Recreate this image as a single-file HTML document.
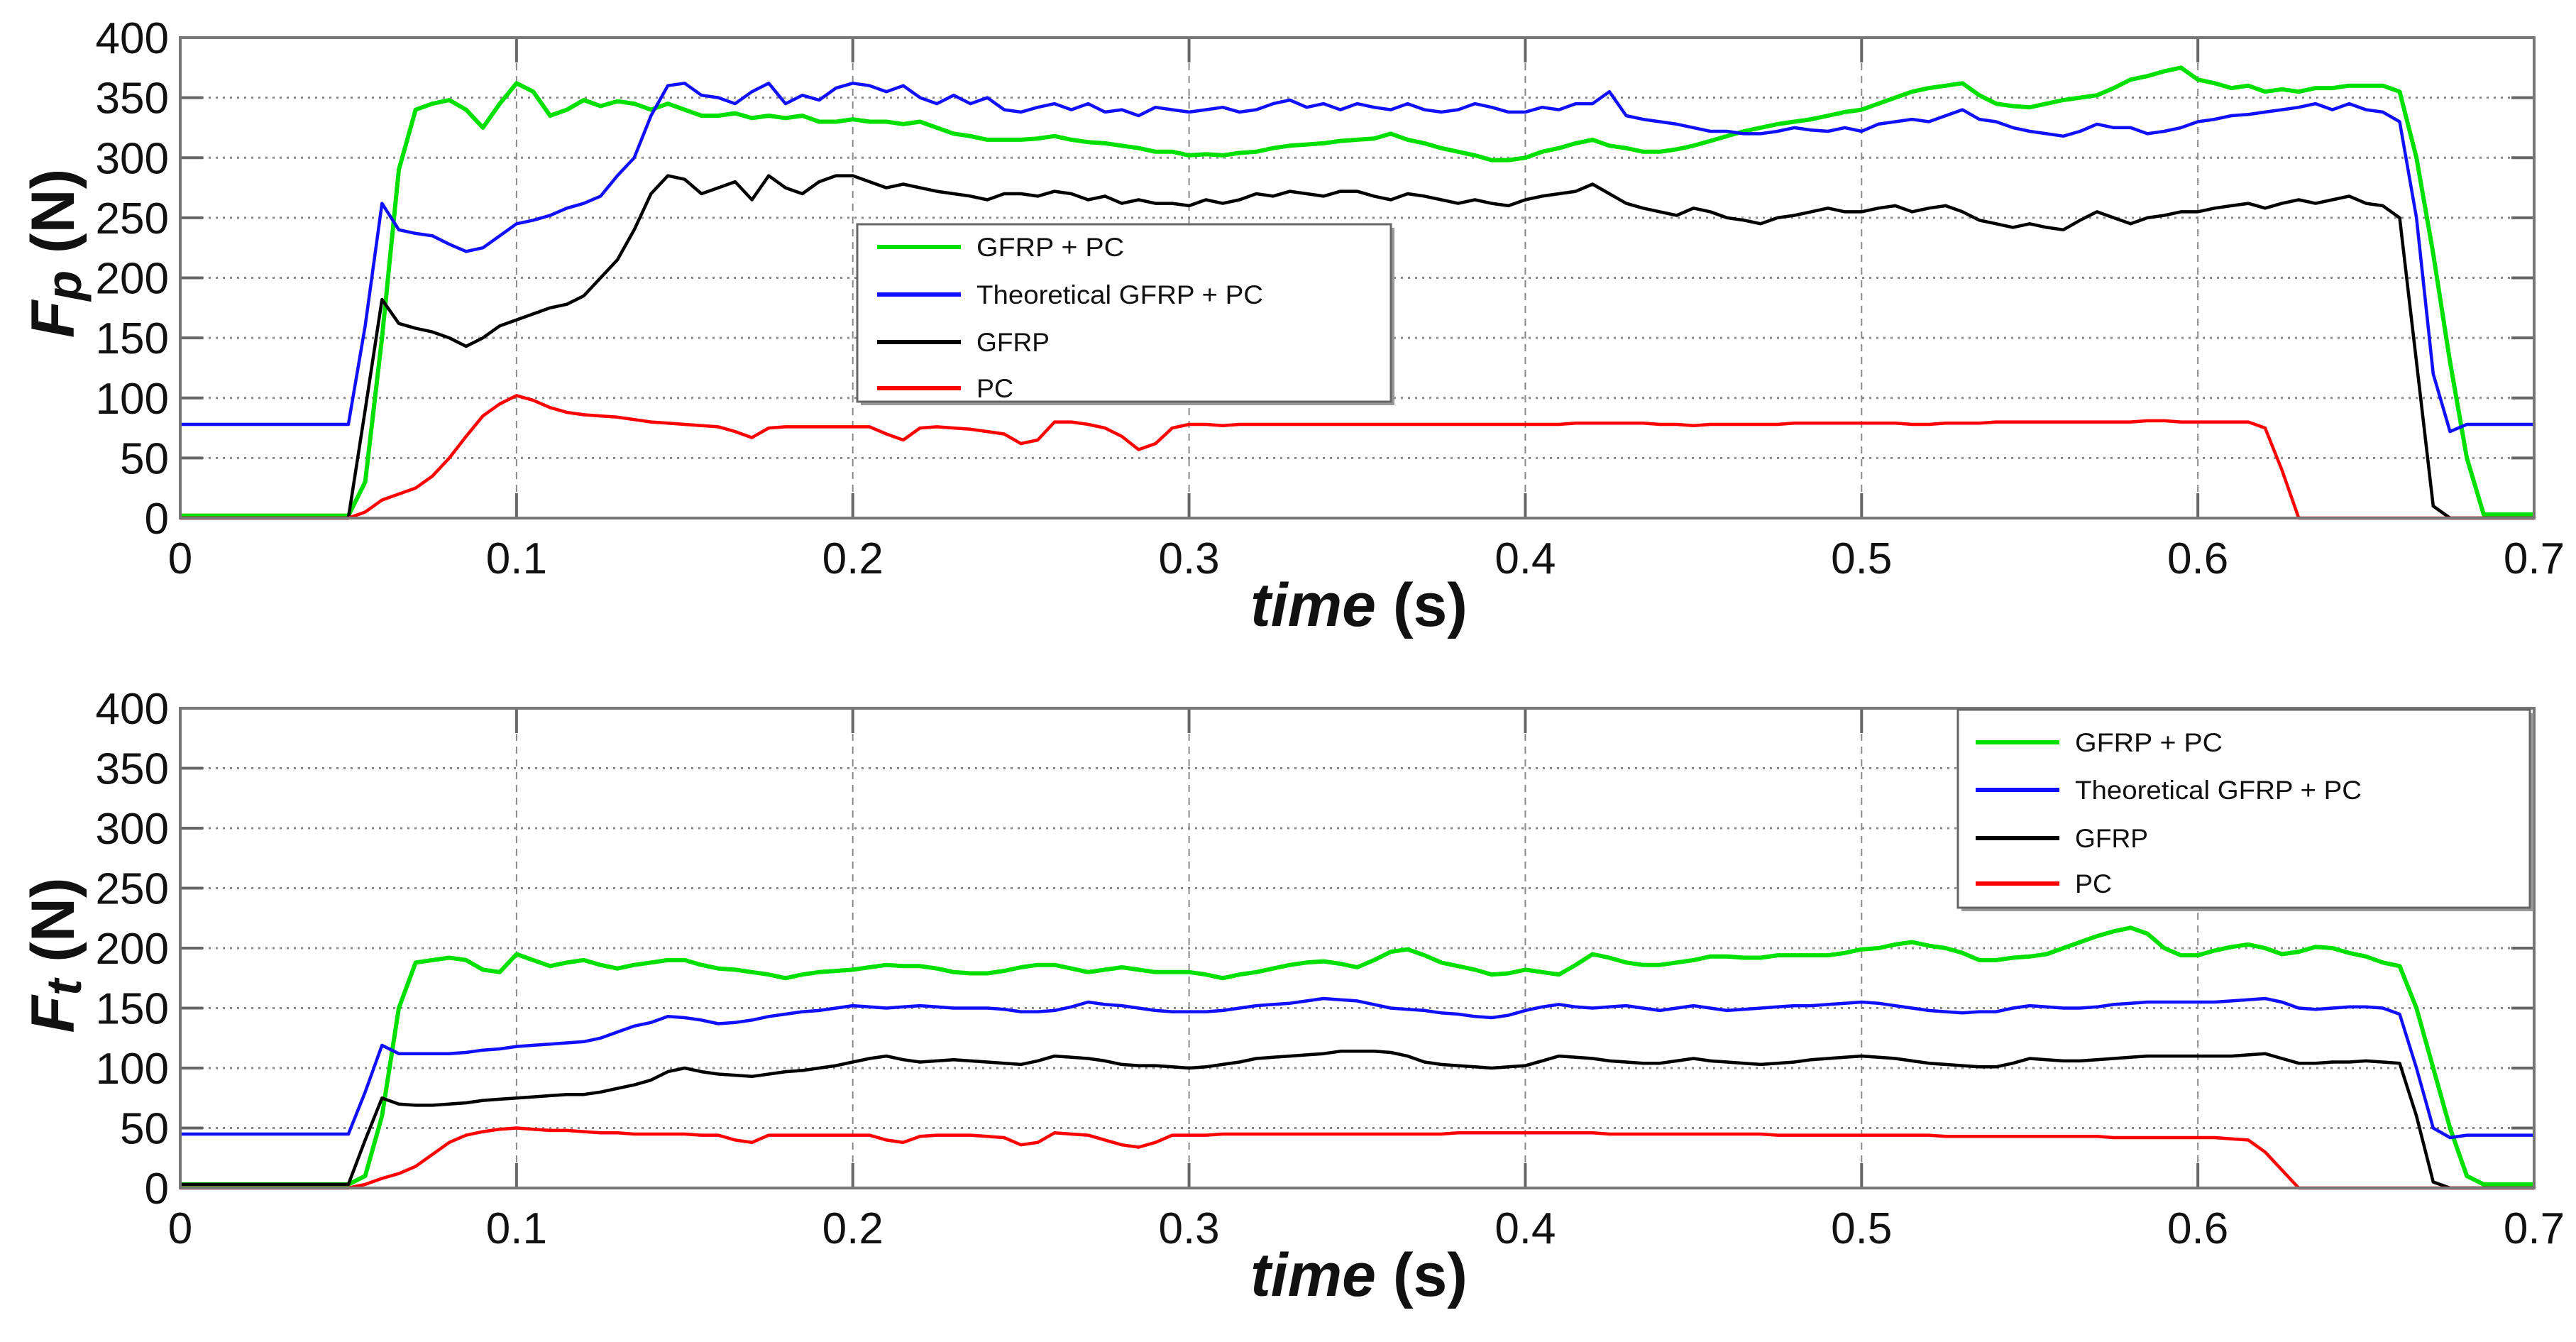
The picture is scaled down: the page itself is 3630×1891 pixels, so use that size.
<!DOCTYPE html>
<html><head><meta charset="utf-8"><style>
html,body{margin:0;padding:0;background:#fff;}
svg{display:block;}
text{font-family:"Liberation Sans",sans-serif;}
</style></head><body>
<svg id="fig" width="3630" height="1891" viewBox="0 0 3630 1891" xmlns="http://www.w3.org/2000/svg">
<rect x="0" y="0" width="3630" height="1891" fill="#fff"/>
</svg>
<script>
// shared time axis (s)
const times = [0,0.005,0.01,0.015,0.02,0.025,0.03,0.035,0.04,0.045,
0.05,0.055,0.06,0.065,0.07,0.075,0.08,0.085,0.09,0.095,
0.1,0.105,0.11,0.115,0.12,0.125,0.13,0.135,0.14,0.145,
0.15,0.155,0.16,0.165,0.17,0.175,0.18,0.185,0.19,0.195,
0.2,0.205,0.21,0.215,0.22,0.225,0.23,0.235,0.24,0.245,
0.25,0.255,0.26,0.265,0.27,0.275,0.28,0.285,0.29,0.295,
0.3,0.305,0.31,0.315,0.32,0.325,0.33,0.335,0.34,0.345,
0.35,0.355,0.36,0.365,0.37,0.375,0.38,0.385,0.39,0.395,
0.4,0.405,0.41,0.415,0.42,0.425,0.43,0.435,0.44,0.445,
0.45,0.455,0.46,0.465,0.47,0.475,0.48,0.485,0.49,0.495,
0.5,0.505,0.51,0.515,0.52,0.525,0.53,0.535,0.54,0.545,
0.55,0.555,0.56,0.565,0.57,0.575,0.58,0.585,0.59,0.595,
0.6,0.605,0.61,0.615,0.62,0.625,0.63,0.635,0.64,0.645,
0.65,0.655,0.66,0.665,0.67,0.675,0.68,0.685,0.69,0.695,0.7];

// Top chart: Fp (N)
const fpGfrpPc = [2,2,2,2,2,2,2,2,2,2,
2,30,150,290,340,345,348,340,325,345,
362,355,335,340,348,343,347,345,340,345,
340,335,335,337,333,335,333,335,330,330,
332,330,330,328,330,325,320,318,315,315,
315,316,318,315,313,312,310,308,305,305,
302,303,302,304,305,308,310,311,312,314,
315,316,320,315,312,308,305,302,298,298,
300,305,308,312,315,310,308,305,305,307,
310,314,318,322,325,328,330,332,335,338,
340,345,350,355,358,360,362,352,345,343,
342,345,348,350,352,358,365,368,372,375,
365,362,358,360,355,357,355,358,358,360,
360,360,355,300,220,130,50,3,3,3,3];
const fpTheory = [78,78,78,78,78,78,78,78,78,78,
78,160,262,240,237,235,228,222,225,235,
245,248,252,258,262,268,285,300,335,360,
362,352,350,345,355,362,345,352,348,358,
362,360,355,360,350,345,352,345,350,340,
338,342,345,340,345,338,340,335,342,340,
338,340,342,338,340,345,348,342,345,340,
345,342,340,345,340,338,340,345,342,338,
338,342,340,345,345,355,335,332,330,328,
325,322,322,320,320,322,325,323,322,325,
322,328,330,332,330,335,340,332,330,325,
322,320,318,322,328,325,325,320,322,325,
330,332,335,336,338,340,342,345,340,345,
340,338,330,250,120,72,78,78,78,78,78];
const fpGfrp = [0,0,0,0,0,0,0,0,0,0,
0,90,182,162,158,155,150,143,150,160,
165,170,175,178,185,200,215,240,270,285,
282,270,275,280,265,285,275,270,280,285,
285,280,275,278,275,272,270,268,265,270,
270,268,272,270,265,268,262,265,262,262,
260,265,262,265,270,268,272,270,268,272,
272,268,265,270,268,265,262,265,262,260,
265,268,270,272,278,270,262,258,255,252,
258,255,250,248,245,250,252,255,258,255,
255,258,260,255,258,260,255,248,245,242,
245,242,240,248,255,250,245,250,252,255,
255,258,260,262,258,262,265,262,265,268,
262,260,250,130,10,0,0,0,0,0,0];
const fpPc = [0,0,0,0,0,0,0,0,0,0,
0,5,15,20,25,35,50,68,85,95,
102,98,92,88,86,85,84,82,80,79,
78,77,76,72,67,75,76,76,76,76,
76,76,70,65,75,76,75,74,72,70,
62,65,80,80,78,75,68,57,62,75,
78,78,77,78,78,78,78,78,78,78,
78,78,78,78,78,78,78,78,78,78,
78,78,78,79,79,79,79,79,78,78,
77,78,78,78,78,78,79,79,79,79,
79,79,79,78,78,79,79,79,80,80,
80,80,80,80,80,80,80,81,81,80,
80,80,80,80,75,40,0,0,0,0,
0,0,0,0,0,0,0,0,0,0,0];

// Bottom chart: Ft (N)
const ftGfrpPc = [3,3,3,3,3,3,3,3,3,3,
3,10,60,150,188,190,192,190,182,180,
195,190,185,188,190,186,183,186,188,190,
190,186,183,182,180,178,175,178,180,181,
182,184,186,185,185,183,180,179,179,181,
184,186,186,183,180,182,184,182,180,180,
180,178,175,178,180,183,186,188,189,187,
184,190,197,199,194,188,185,182,178,179,
182,180,178,186,195,192,188,186,186,188,
190,193,193,192,192,194,194,194,194,196,
199,200,203,205,202,200,196,190,190,192,
193,195,200,205,210,214,217,212,200,194,
194,198,201,203,200,195,197,201,200,196,
193,188,185,150,100,50,10,3,3,3,3];
const ftTheory = [45,45,45,45,45,45,45,45,45,45,
45,80,119,112,112,112,112,113,115,116,
118,119,120,121,122,125,130,135,138,143,
142,140,137,138,140,143,145,147,148,150,
152,151,150,151,152,151,150,150,150,149,
147,147,148,151,155,153,152,150,148,147,
147,147,148,150,152,153,154,156,158,157,
156,153,150,149,148,146,145,143,142,144,
148,151,153,151,150,151,152,150,148,150,
152,150,148,149,150,151,152,152,153,154,
155,154,152,150,148,147,146,147,147,150,
152,151,150,150,151,153,154,155,155,155,
155,155,156,157,158,155,150,149,150,151,
151,150,145,100,50,42,44,44,44,44,44];
const ftGfrp = [3,3,3,3,3,3,3,3,3,3,
3,40,75,70,69,69,70,71,73,74,
75,76,77,78,78,80,83,86,90,97,
100,97,95,94,93,95,97,98,100,102,
105,108,110,107,105,106,107,106,105,104,
103,106,110,109,108,106,103,102,102,101,
100,101,103,105,108,109,110,111,112,114,
114,114,113,110,105,103,102,101,100,101,
102,106,110,109,108,106,105,104,104,106,
108,106,105,104,103,104,105,107,108,109,
110,109,108,106,104,103,102,101,101,104,
108,107,106,106,107,108,109,110,110,110,
110,110,110,111,112,108,104,104,105,105,
106,105,104,60,5,0,0,0,0,0,0];
const ftPc = [0,0,0,0,0,0,0,0,0,0,
0,3,8,12,18,28,38,44,47,49,
50,49,48,48,47,46,46,45,45,45,
45,44,44,40,38,44,44,44,44,44,
44,44,40,38,43,44,44,44,43,42,
36,38,46,45,44,40,36,34,38,44,
44,44,45,45,45,45,45,45,45,45,
45,45,45,45,45,45,46,46,46,46,
46,46,46,46,46,45,45,45,45,45,
45,45,45,45,45,44,44,44,44,44,
44,44,44,44,44,43,43,43,43,43,
43,43,43,43,43,42,42,42,42,42,
42,42,41,40,30,15,0,0,0,0,
0,0,0,0,0,0,0,0,0,0,0];

const yTicks = [0,50,100,150,200,250,300,350,400];
const yTickLabels = ["0","50","100","150","200","250","300","350","400"];
const xTicks = [0,0.1,0.2,0.3,0.4,0.5,0.6,0.7];
const xTickLabels = ["0","0.1","0.2","0.3","0.4","0.5","0.6","0.7"];
const seriesNames = ["GFRP + PC","Theoretical GFRP + PC","GFRP","PC"];

const NS = "http://www.w3.org/2000/svg";
const svg = document.getElementById('fig');
function mk(tag, attrs, parent){
  const e = document.createElementNS(NS, tag);
  for (const k in attrs) e.setAttribute(k, attrs[k]);
  (parent||svg).appendChild(e);
  return e;
}
const colors = ["#00e000","#1010ff","#000000","#ff0000"];
const widths = [6,4.5,4.5,4.5];
const X0 = 254, X1 = 3571;

function drawChart(cfg){
  const g = mk('g', {});
  
  
  const xs = t => X0 + (t/0.7)*(X1-X0);
  const ys = v => cfg.bottom - (v/400)*(cfg.bottom-cfg.top);
  // grid
  yTicks.forEach((v,i)=>{
    if (v>0 && v<400){
      const l = mk('line',{x1:X0,x2:X1,y1:ys(v),y2:ys(v),stroke:'#8a8a8a','stroke-width':3,'stroke-dasharray':'3,7'},g);
      
      
    }
    const tl = mk('line',{x1:X0,x2:X0+32,y1:ys(v),y2:ys(v),stroke:'#666','stroke-width':4},g);
    
    
    const tr = mk('line',{x1:X1-32,x2:X1,y1:ys(v),y2:ys(v),stroke:'#666','stroke-width':4},g);
    
    
    const lab = mk('text',{x:238,y:ys(v)+22,'text-anchor':'end','font-size':62,fill:'#111'},g);
    lab.textContent = yTickLabels[i];
    
    
  });
  xTicks.forEach((t,i)=>{
    if (t>0 && t<0.7){
      const l = mk('line',{x1:xs(t),x2:xs(t),y1:cfg.top,y2:cfg.bottom,stroke:'#8a8a8a','stroke-width':2,'stroke-dasharray':'10,8'},g);
      
      
    }
    const tb = mk('line',{x1:xs(t),x2:xs(t),y1:cfg.bottom-35,y2:cfg.bottom,stroke:'#666','stroke-width':4},g);
    
    
    const tt = mk('line',{x1:xs(t),x2:xs(t),y1:cfg.top,y2:cfg.top+35,stroke:'#666','stroke-width':4},g);
    
    
    const lab = mk('text',{x:xs(t),y:cfg.bottom+78,'text-anchor':'middle','font-size':62,fill:'#111'},g);
    lab.textContent = xTickLabels[i];
    
    
  });
  // series
  cfg.series.forEach((arr,si)=>{
    let d = '';
    arr.forEach((v,i)=>{ d += (i?'L':'M') + xs(times[i]).toFixed(1) + ',' + ys(v).toFixed(1); });
    const p = mk('path',{d:d,fill:'none',stroke:colors[si],'stroke-width':widths[si],'stroke-linejoin':'round'},g);
    
    
  });
  // box
  const box = mk('rect',{x:X0,y:cfg.top,width:X1-X0,height:cfg.bottom-cfg.top,fill:'none',stroke:'#777','stroke-width':4},g);
  
  
  // axis titles
  const xt = mk('text',{x:1915,y:cfg.bottom+152,'text-anchor':'middle','font-size':86,'font-weight':'bold',fill:'#111'},g);
  xt.innerHTML = '<tspan font-style="italic">time</tspan> (s)';
  
  
  const yt = mk('text',{x:0,y:0,'text-anchor':'middle','font-size':86,'font-weight':'bold',fill:'#111',transform:'translate(104,'+cfg.ytitleY+') rotate(-90)'},g);
  yt.innerHTML = '<tspan font-style="italic">F</tspan><tspan font-style="italic" font-size="70" dy="10">'+cfg.sub+'</tspan><tspan dy="-10"> (N)</tspan>';
  
  
  // legend
  const L = cfg.legend;
  const lg = mk('g',{},g);
  
  
  const sh = mk('rect',{x:L.x+5,y:L.y+5,width:L.w,height:L.h,fill:'#999'},lg);
  
  
  const lb = mk('rect',{x:L.x,y:L.y,width:L.w,height:L.h,fill:'#fff',stroke:'#666','stroke-width':3},lg);
  
  
  const tw = [208,404,103,52];
  seriesNames.forEach((nm,i)=>{
    const yy = L.rows[i];
    const ln = mk('line',{x1:L.lx,x2:L.lx+118,y1:yy,y2:yy,stroke:colors[i],'stroke-width':6},lg);
    
    
    const tx = mk('text',{x:L.lx+140,y:yy+13,'font-size':37,fill:'#111',textLength:tw[i],lengthAdjust:'spacingAndGlyphs'},lg);
    tx.textContent = nm;
    
    
  });
}

drawChart({name:'fp-chart',top:53,bottom:730,sub:'p',ytitleY:357,
  series:[fpGfrpPc,fpTheory,fpGfrp,fpPc],
  legend:{x:1208,y:316,w:752,h:250,lx:1236,rows:[348,415,482,547]}});
drawChart({name:'ft-chart',top:998,bottom:1674,sub:'t',ytitleY:1346,
  series:[ftGfrpPc,ftTheory,ftGfrp,ftPc],
  legend:{x:2759,y:1000,w:806,h:279,lx:2784,rows:[1046,1113,1181,1245]}});
</script>
</body></html>
